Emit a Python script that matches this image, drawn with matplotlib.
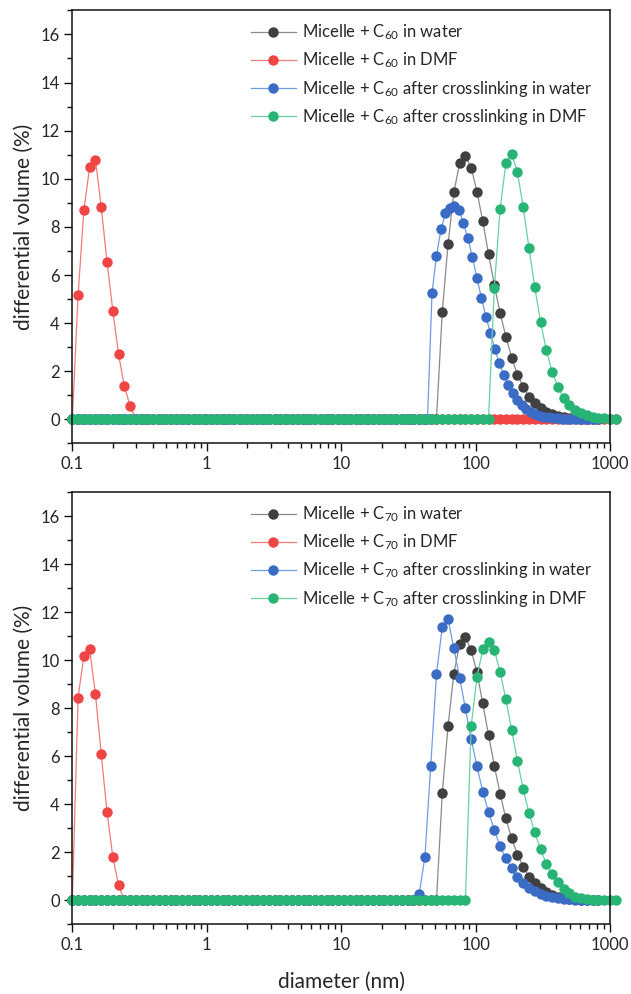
import numpy as np
import matplotlib
matplotlib.use("Agg")
import matplotlib.pyplot as plt
from matplotlib.ticker import FixedLocator, NullFormatter, MultipleLocator

plt.rcParams['font.family'] = ['Lato', 'DejaVu Sans']
plt.rcParams['mathtext.fontset'] = 'custom'
plt.rcParams['mathtext.rm'] = 'Lato'

# ---------------- data ----------------
# size channels (nm): geometric grids of the instrument
channel_ratio = 2 ** (1 / 7)
channel_ratio_b60 = 2 ** (1 / 9)
n_channels = 95
n_channels_b60 = 118

xticks = [0.1, 1, 10, 100, 1000]
xtick_labels = ["0.1", "1", "10", "100", "1000"]
yticks = [0, 2, 4, 6, 8, 10, 12, 14, 16]

labels_c60 = ["Micelle + C$\\mathregular{_{60}}$ in water",
              "Micelle + C$\\mathregular{_{60}}$ in DMF",
              "Micelle + C$\\mathregular{_{60}}$ after crosslinking in water",
              "Micelle + C$\\mathregular{_{60}}$ after crosslinking in DMF"]
labels_c70 = ["Micelle + C$\\mathregular{_{70}}$ in water",
              "Micelle + C$\\mathregular{_{70}}$ in DMF",
              "Micelle + C$\\mathregular{_{70}}$ after crosslinking in water",
              "Micelle + C$\\mathregular{_{70}}$ after crosslinking in DMF"]

# C60 panel
water60 = [0.0] * 64 + [4.47, 7.28, 9.43, 10.64, 10.94, 10.46, 9.47, 8.24, 6.87, 5.60,
                        4.43, 3.44, 2.57, 1.86, 1.36, 0.94, 0.66, 0.46, 0.32, 0.22,
                        0.15, 0.10, 0.07, 0.05, 0.03, 0.02, 0.01, 0.005]
dmf60 = [0.0] + [5.16, 8.71, 10.48, 10.80, 8.83, 6.56, 4.52, 2.71, 1.38, 0.55] + [0.0] * 84
xwater60 = [0.0] * 80 + [5.24, 6.79, 7.90, 8.56, 8.80, 8.87, 8.70, 8.15, 7.52, 6.73,
                         5.88, 5.05, 4.25, 3.60, 2.91, 2.33, 1.84, 1.43, 1.08, 0.80,
                         0.58, 0.42, 0.30, 0.22, 0.16, 0.11, 0.08, 0.06, 0.04, 0.03,
                         0.02, 0.015, 0.01, 0.007, 0.005, 0.003, 0.002, 0.001]
xdmf60 = [0.0] * 73 + [5.45, 8.73, 10.64, 11.04, 10.27, 8.83, 7.12, 5.50, 4.05, 2.88,
                       1.98, 1.35, 0.87, 0.59, 0.40, 0.27, 0.18, 0.11, 0.07, 0.04,
                       0.02, 0.01]

# C70 panel
water70 = [0.0] * 64 + [4.47, 7.26, 9.45, 10.67, 10.96, 10.43, 9.50, 8.21, 6.89, 5.61,
                        4.45, 3.41, 2.58, 1.90, 1.40, 0.98, 0.71, 0.50, 0.34, 0.23,
                        0.15, 0.10, 0.07, 0.04, 0.025, 0.015, 0.008, 0.004]
dmf70 = [0.0] + [8.45, 10.18, 10.47, 8.60, 6.10, 3.68, 1.82, 0.63] + [0.0] * 52
xwater70 = [0.0] * 60 + [0.25, 1.82, 5.60, 9.43, 11.38, 11.72, 10.50, 9.27, 8.00, 6.71,
                         5.60, 4.53, 3.68, 2.93, 2.25, 1.75, 1.33, 0.98, 0.72, 0.52,
                         0.37, 0.26, 0.18, 0.12, 0.08, 0.055, 0.035, 0.022, 0.014, 0.008,
                         0.004, 0.002]
xdmf70 = [0.0] * 69 + [7.26, 9.29, 10.46, 10.78, 10.43, 9.53, 8.38, 7.11, 5.81, 4.64,
                       3.64, 2.83, 2.14, 1.52, 1.10, 0.76, 0.48, 0.29, 0.15, 0.08,
                       0.05, 0.03, 0.02, 0.01, 0.005, 0.003]

x_main = 0.1 * channel_ratio ** np.arange(n_channels)
x_b60 = 0.1 * channel_ratio_b60 ** np.arange(n_channels_b60)

# ---------------- style ----------------
marker_colors = ['#404040', '#ef4545', '#3a6cc6', '#27b474']
line_colors = ['#8a8a8a', '#f27a7a', '#6f9de2', '#66d1a3']
text_color = '#262626'

fig = plt.figure(figsize=(6.31, 9.94), dpi=100)
ax_top = fig.add_axes([0.1146, 0.5539, 0.8521, 0.4357])
ax_bot = fig.add_axes([0.1146, 0.0701, 0.8521, 0.4346])

panels = [
    (ax_top, [(x_main, water60), (x_main, dmf60), (x_b60, xwater60), (x_main, xdmf60)], labels_c60),
    (ax_bot, [(x_main, water70), (x_main, dmf70), (x_main, xwater70), (x_main, xdmf70)], labels_c70),
]

for ax, series, labels in panels:
    for (xs, ys), mc, lc, lab in zip(series, marker_colors, line_colors, labels):
        ax.plot(xs[:len(ys)], ys, '-', color=lc, lw=0.9, marker='o', ms=7.5,
                mfc=mc, mec=mc, mew=0, clip_on=False, label=lab)
    ax.set_xscale('log')
    ax.set_xlim(0.1, 1000)
    ax.set_ylim(-1, 17)
    ax.xaxis.set_major_locator(FixedLocator(xticks))
    ax.set_xticklabels(xtick_labels)
    minors = [m * d for d in [0.1, 1, 10, 100] for m in range(2, 10)]
    ax.xaxis.set_minor_locator(FixedLocator(minors))
    ax.xaxis.set_minor_formatter(NullFormatter())
    ax.yaxis.set_major_locator(FixedLocator(yticks))
    ax.set_yticklabels([str(v) for v in yticks])
    ax.yaxis.set_minor_locator(MultipleLocator(1))
    ax.tick_params(which='major', direction='out', length=6, width=1.0,
                   labelsize=12, colors='#111111', labelcolor=text_color, pad=3)
    ax.tick_params(which='minor', direction='out', length=3.5, width=1.0, colors='#111111')
    for sp in ax.spines.values():
        sp.set_linewidth(1.1)
        sp.set_color('#111111')
    ax.set_ylabel('differential volume (%)', fontsize=15, color=text_color, labelpad=5)
    leg = ax.legend(loc='upper left', bbox_to_anchor=(0.332, 0.972), frameon=False,
                    fontsize=12, handlelength=2.7, handletextpad=0.4,
                    labelspacing=0.5, borderaxespad=0, borderpad=0, numpoints=1)
    for t in leg.get_texts():
        t.set_color(text_color)

ax_bot.set_xlabel('diameter (nm)', fontsize=15, color=text_color, labelpad=14)

fig.savefig('out.png', dpi=100)
